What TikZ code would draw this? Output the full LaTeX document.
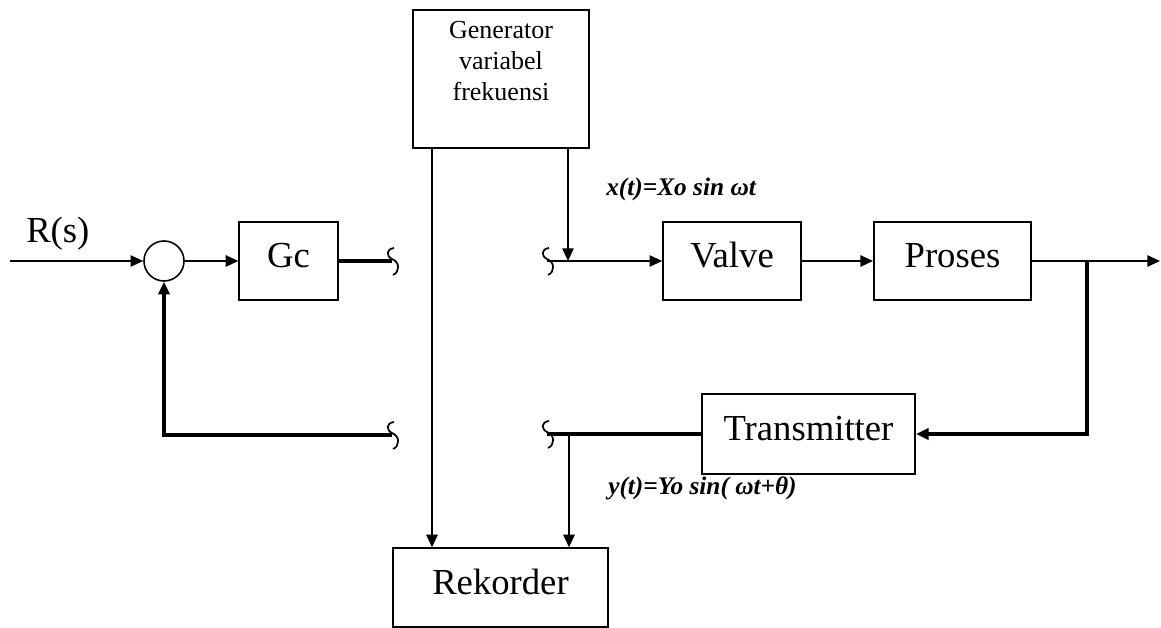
\documentclass[tikz,border=0pt]{standalone}
\usepackage{fontspec}
\setmainfont{Liberation Serif}
\usetikzlibrary{arrows.meta, positioning, calc}

\tikzset{
  blok/.style={draw, line width=1.2pt, inner sep=0pt, font=\fontsize{27.5}{30}\selectfont, text height=19pt, text depth=9pt},
  garis/.style={line width=1.3pt},
  tebal/.style={line width=2.3pt},
  panah/.style={-{Triangle[length=9.5pt,width=8.5pt]}},
  sinyal/.style={font=\fontsize{19}{22}\selectfont\bfseries\itshape, inner sep=0pt, anchor=base west},
  brk/.pic={\draw[line width=1.3pt] (2,-13) .. controls (-6,-12) and (-6,-5) .. (0,-2) .. controls (8,1) and (8,11) .. (1,14);}
}

\begin{document}
\begin{tikzpicture}[x=0.75pt, y=-0.75pt]
  \useasboundingbox (0,0) rectangle (1161,628);
  \node[draw, circle, line width=1.2pt, minimum size=30pt, inner sep=0pt] (sum) at (164,261) {};
  \node[blok, minimum width=74pt, minimum height=58.5pt] (gc) at (288.5,261) {Gc};
  \node[blok, minimum width=132pt, minimum height=103.5pt] (gen) at (501,79) {};
  \node[font=\fontsize{19.5}{23.5}\selectfont, align=center, inner sep=0pt, below=8.5pt of gen.north] (gentxt) {Generator\\variabel\\frekuensi};
  \node[blok, minimum width=103.5pt, minimum height=58.5pt] (valve) at (732,261) {Valve};
  \node[blok, minimum width=118pt, minimum height=58.5pt] (proses) at (952.5,261) {Proses};
  \node[blok, minimum width=160pt, minimum height=60pt] (trans) at (808.5,434) {Transmitter};
  \node[blok, minimum width=161pt, minimum height=59pt] (rek) at (500.5,587.5) {Rekorder};
  \node[font=\fontsize{27.5}{30}\selectfont, inner sep=0pt, anchor=base west] (rs) at (26,242) {R(s)};
  \node[sinyal] (lx) at (606,195) {x(t)=Xo sin ωt};
  \node[sinyal] (ly) at (608,494) {y(t)=Yo sin( ωt+θ)};

  \coordinate (masuk) at (10,261);
  \coordinate (keluar) at (1160,261);
  \coordinate (cabang) at (1087,261);
  \coordinate (b1) at (392,261);
  \coordinate (b2) at (547,261);
  \coordinate (b3) at (392,435);
  \coordinate (b4) at (547,434);
  \coordinate (xt) at (568,261);
  \coordinate (yt) at (569,434);
  \coordinate (gkiri) at (432,0);

  \draw[garis, panah] (masuk) -- (sum);
  \draw[garis, panah] (sum) -- (gc);
  \draw[tebal] (gc) -- (b1);
  \draw[garis, panah] (b2) -- (valve);
  \draw[garis, panah] (gen.south -| xt) -- (xt);
  \draw[garis, panah] (valve) -- (proses);
  \draw[garis, panah] (proses) -- (keluar);
  \draw[tebal, panah] (cabang) |- (trans);
  \draw[tebal] (trans) -- (b4);
  \draw[garis, panah] (yt) -- (rek.north -| yt);
  \draw[garis, panah] (gen.south -| gkiri) -- (rek.north -| gkiri);
  \draw[tebal, panah] (b3) -| (sum);
  \foreach \titik in {b1, b2, b3, b4}
    \pic at (\titik) {brk};
\end{tikzpicture}
\end{document}
